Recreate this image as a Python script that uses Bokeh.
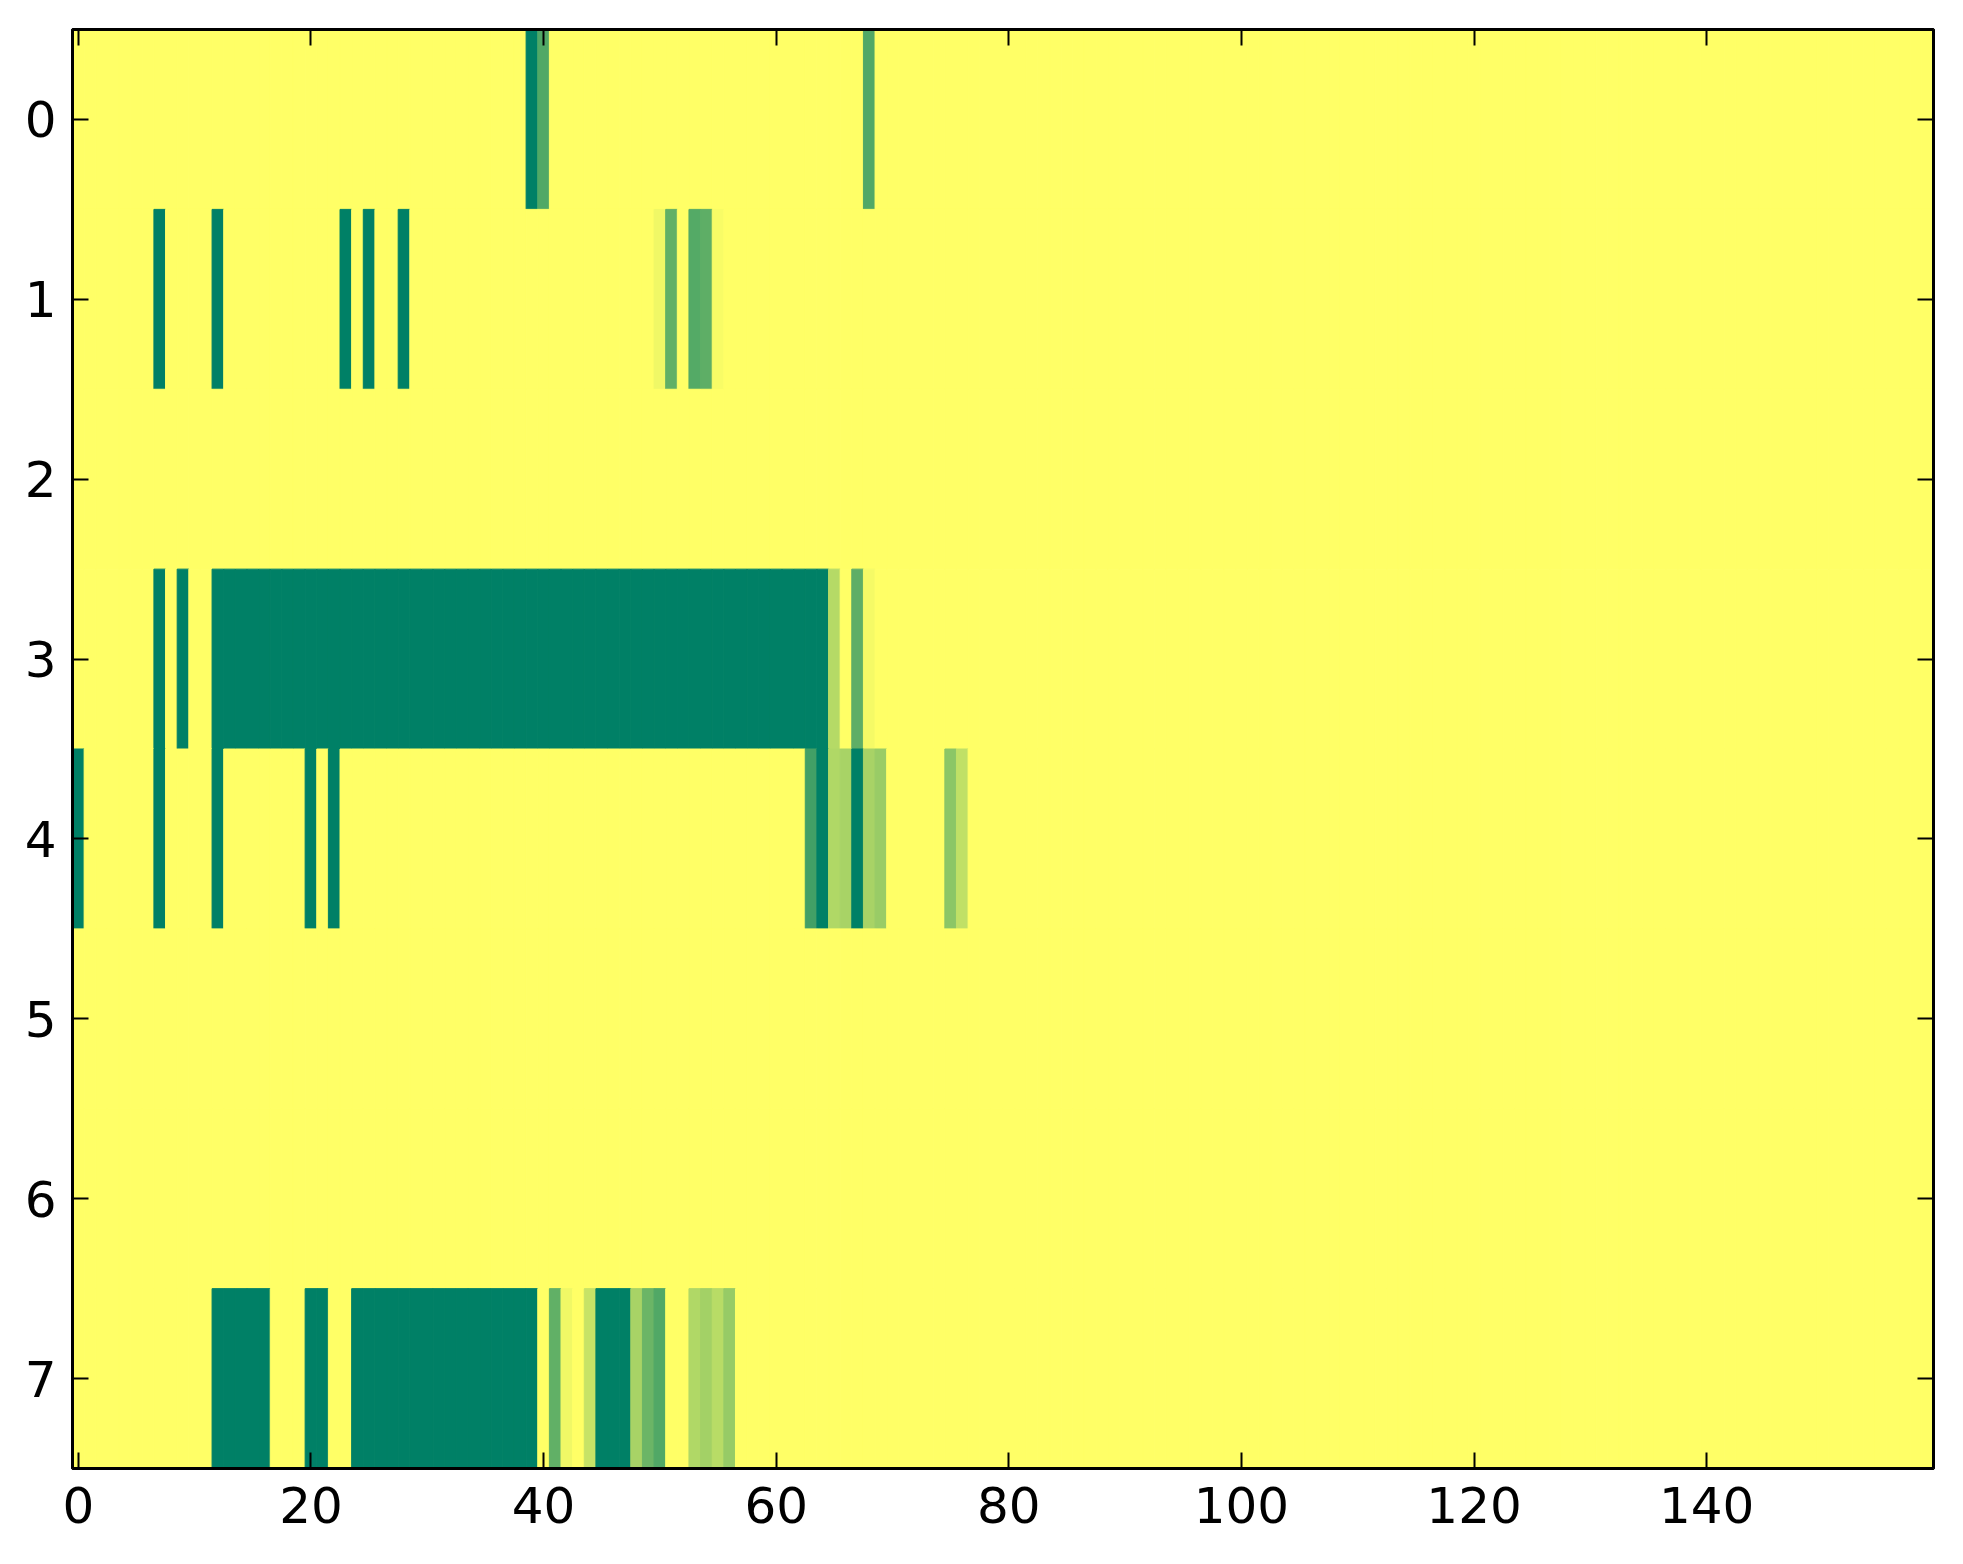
import numpy as np
from bokeh.plotting import figure
from bokeh.models import ColumnDataSource, Range1d, FixedTicker, LinearAxis, LinearColorMapper
from bokeh.transform import transform
from bokeh.embed import file_html
from bokeh.resources import INLINE

n_rows = 8
n_cols = 160
x_ticks = [0, 20, 40, 60, 80, 100, 120, 140]
y_ticks = [0, 1, 2, 3, 4, 5, 6, 7]

# cells that are not at the top value (1.0), per row: column -> value
row0 = {39: 0.0, 40: 0.32, 68: 0.32}
row1 = {7: 0.0, 12: 0.0, 23: 0.0, 25: 0.0, 28: 0.0,
        50: 0.94, 51: 0.38, 53: 0.33, 54: 0.37, 55: 0.97}
row2 = {}
row3 = {7: 0.0, 9: 0.0, 12: 0.0, 13: 0.0, 14: 0.0, 15: 0.0, 16: 0.0, 17: 0.0,
        18: 0.0, 19: 0.0, 20: 0.0, 21: 0.0, 22: 0.0, 23: 0.0, 24: 0.0, 25: 0.0,
        26: 0.0, 27: 0.0, 28: 0.0, 29: 0.0, 30: 0.0, 31: 0.0, 32: 0.0, 33: 0.0,
        34: 0.0, 35: 0.0, 36: 0.0, 37: 0.0, 38: 0.0, 39: 0.0, 40: 0.0, 41: 0.0,
        42: 0.0, 43: 0.0, 44: 0.0, 45: 0.0, 46: 0.0, 47: 0.0, 48: 0.0, 49: 0.0,
        50: 0.0, 51: 0.0, 52: 0.0, 53: 0.0, 54: 0.0, 55: 0.0, 56: 0.0, 57: 0.0,
        58: 0.0, 59: 0.0, 60: 0.0, 61: 0.0, 62: 0.0, 63: 0.0, 64: 0.0,
        65: 0.71, 67: 0.37, 68: 0.96}
row4 = {0: 0.0, 7: 0.0, 12: 0.0, 20: 0.0, 22: 0.0,
        63: 0.26, 64: 0.0, 65: 0.69, 66: 0.66, 67: 0.0, 68: 0.66, 69: 0.60,
        75: 0.55, 76: 0.75}
row5 = {}
row6 = {}
row7 = {12: 0.0, 13: 0.0, 14: 0.0, 15: 0.0, 16: 0.0, 20: 0.0, 21: 0.0,
        24: 0.0, 25: 0.0, 26: 0.0, 27: 0.0, 28: 0.0, 29: 0.0, 30: 0.0, 31: 0.0,
        32: 0.0, 33: 0.0, 34: 0.0, 35: 0.0, 36: 0.0, 37: 0.0, 38: 0.0, 39: 0.0,
        41: 0.38, 42: 0.94, 44: 0.78, 45: 0.0, 46: 0.0, 47: 0.0,
        48: 0.66, 49: 0.42, 50: 0.32, 53: 0.69, 54: 0.64, 55: 0.72, 56: 0.59}
rows = [row0, row1, row2, row3, row4, row5, row6, row7]

# matplotlib "summer" colormap
def summer_palette(n=256):
    out = []
    for i in range(n):
        t = i / (n - 1)
        r, g, b = t, 0.5 + 0.5 * t, 0.4
        out.append("#%02x%02x%02x" % (round(r * 255), round(g * 255), round(b * 255)))
    return out

xs, ys, vals = [], [], []
for r, cells in enumerate(rows):
    for c in range(n_cols):
        xs.append(c)
        ys.append(r)
        vals.append(cells.get(c, 1.0))

source = ColumnDataSource(data=dict(
    left=[x - 0.5 for x in xs], right=[x + 0.5 for x in xs],
    top=[y - 0.5 for y in ys], bottom=[y + 0.5 for y in ys], val=vals))

mapper = LinearColorMapper(palette=summer_palette(), low=0.0, high=1.0)

p = figure(frame_width=1861, frame_height=1439,
           x_range=Range1d(-0.5, n_cols - 0.5), y_range=Range1d(n_rows - 0.5, -0.5),
           output_backend="svg", toolbar_location=None, tools="",
           min_border_left=72, min_border_top=29, min_border_right=14, min_border_bottom=80)

p.quad(left="left", right="right", top="top", bottom="bottom", source=source,
       fill_color=transform("val", mapper), line_color=transform("val", mapper),
       line_width=1)

p.grid.visible = False
p.outline_line_color = "black"
p.outline_line_width = 3
p.background_fill_color = "white"

bottom_axis = p.below[0]
left_axis = p.left[0]
bottom_axis.ticker = FixedTicker(ticks=x_ticks)
left_axis.ticker = FixedTicker(ticks=y_ticks)

top_axis = LinearAxis(ticker=FixedTicker(ticks=x_ticks),
                      major_label_overrides={t: "" for t in x_ticks})
right_axis = LinearAxis(ticker=FixedTicker(ticks=y_ticks),
                        major_label_overrides={t: "" for t in y_ticks})
p.add_layout(top_axis, "above")
p.add_layout(right_axis, "right")

for ax in [bottom_axis, left_axis, top_axis, right_axis]:
    ax.axis_line_width = 3
    ax.axis_line_color = "black"
    ax.major_tick_in = 16
    ax.major_tick_out = 0
    ax.major_tick_line_width = 2
    ax.minor_tick_line_color = None
    ax.major_label_text_font = "DejaVu Sans"
    ax.major_label_text_font_size = "50px"
    ax.major_label_text_color = "black"

top_axis.major_label_standoff = 0
right_axis.major_label_standoff = 0
bottom_axis.major_label_standoff = 18
left_axis.major_label_standoff = 16

open("out.html", "w").write(file_html(p, INLINE))
